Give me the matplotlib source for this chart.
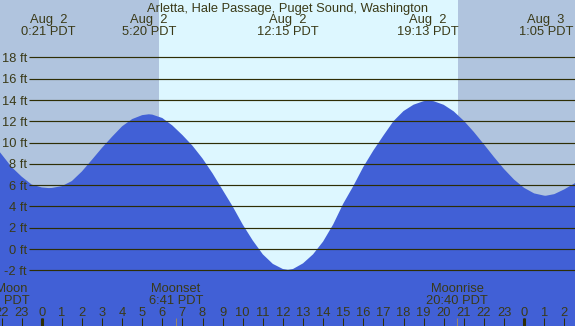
import matplotlib
matplotlib.use('Agg')
import matplotlib.pyplot as plt
from matplotlib.transforms import ScaledTranslation

# ---------------- data ----------------
tide_hours = [-2.5, -2.0, -1.5, -1.0, -0.5, 0.0, 0.35, 0.5, 1.0, 1.5, 2.0, 2.5, 3.0, 3.5,
              4.0, 4.5, 5.0, 5.33, 5.5, 6.0, 6.5, 7.0, 7.5, 8.0, 8.5, 9.0, 9.5, 10.0,
              10.5, 11.0, 11.5, 12.0, 12.25, 12.5, 13.0, 13.5, 14.0, 14.5, 15.0, 15.5,
              16.0, 16.5, 17.0, 17.5, 18.0, 18.5, 19.0, 19.22, 19.5, 20.0, 20.5, 21.0,
              21.5, 22.0, 22.5, 23.0, 23.5, 24.0, 24.5, 25.0, 25.08, 25.5, 26.0, 26.5, 27.0]
tide_ft = [10.1, 8.9, 7.7, 6.8, 6.05, 5.78, 5.72, 5.73, 5.9, 6.38, 7.28, 8.38, 9.5, 10.54,
           11.52, 12.2, 12.57, 12.65, 12.62, 12.3, 11.6, 10.7, 9.7, 8.5, 7.1, 5.55, 4.0, 2.3,
           0.8, -0.5, -1.4, -1.88, -1.95, -1.88, -1.35, -0.5, 0.7, 2.3, 4.25, 5.9,
           7.7, 9.25, 10.65, 12.0, 12.95, 13.55, 13.88, 13.93, 13.88, 13.54, 12.92, 12.04,
           10.99, 9.83, 8.64, 7.51, 6.52, 5.74, 5.22, 5.01, 5.0, 5.15, 5.6, 6.15, 6.9]

extreme_hours = [0.35, 5.333, 12.25, 19.217, 25.083]
extreme_dates = ['Aug  2', 'Aug  2', 'Aug  2', 'Aug  2', 'Aug  3']
extreme_times = ['0:21 PDT', '5:20 PDT', '12:15 PDT', '19:13 PDT', '1:05 PDT']

sunrise_hour = 5.83
sunset_hour = 20.72

moon_hours = [-2.13, 6.683, 20.667]
moon_names = ['Full Moon', 'Moonset', 'Moonrise']
moon_times = ['21:52 PDT', '6:41 PDT', '20:40 PDT']

hour_ticks = list(range(-2, 27))
hour_labels = [str(h % 24) for h in hour_ticks]
midnight_hours = [0, 24]

ft_levels = [-2, 0, 2, 4, 6, 8, 10, 12, 14, 16, 18]
ft_labels = ['%d ft' % v for v in ft_levels]

title = 'Arletta, Hale Passage, Puget Sound, Washington'

# ---------------- styling ----------------
W, H = 575, 326
night_col = '#b0c4de'
day_col = '#ddf7ff'
water_col = '#4160d6'
grid_col = '#2e2e05'
text_col = '#3a3a18'
moon_tick_col = '#9a8866'
FONT = 'Liberation Sans'
FS = 9.3

fig = plt.figure(figsize=(W / 100, H / 100), dpi=100)
ax = fig.add_axes([0, 0, 1, 1])
ax.set_axis_off()

px_per_hour = 20.1
x0_px = 41.7
px_per_ft = 10.65
y0_px = 249.0
ax.set_xlim(-x0_px / px_per_hour, (W - x0_px) / px_per_hour)
ax.set_ylim((y0_px - H) / px_per_ft, y0_px / px_per_ft)
xmin, xmax = ax.get_xlim()
ymin, ymax = ax.get_ylim()

# background day / night
ax.axvspan(xmin, sunrise_hour, color=night_col, zorder=0, lw=0)
ax.axvspan(sunrise_hour, sunset_hour, color=day_col, zorder=0, lw=0)
ax.axvspan(sunset_hour, xmax, color=night_col, zorder=0, lw=0)

# water
ax.fill_between(tide_hours, tide_ft, ymin - 5, color=water_col, lw=0, zorder=1)

# grid lines
ax.hlines(ft_levels, 29.3 / W, 1.0, transform=ax.get_yaxis_transform(),
          colors=grid_col, lw=0.85, zorder=2)

# y labels
off = ScaledTranslation(0, -4.7 / 100, fig.dpi_scale_trans)
for v, lab in zip(ft_levels, ft_labels):
    ax.text(26.9 / W, v, lab, transform=ax.get_yaxis_transform() + off,
            ha='right', va='baseline', fontsize=FS, family=FONT, color=text_col, zorder=3)

xt = ax.get_xaxis_transform()

def fy(px):
    return 1 - px / H

# title and extreme labels
ax.text(0.5, fy(11.7), title, transform=ax.transAxes, ha='center', va='baseline',
        fontsize=FS, family=FONT, color=text_col, zorder=3)
for h, d, t in zip(extreme_hours, extreme_dates, extreme_times):
    ax.text(h, fy(23.3), d, transform=xt, ha='center', va='baseline',
            fontsize=FS, family=FONT, color=text_col, zorder=3)
    ax.text(h, fy(35.3), t, transform=xt, ha='center', va='baseline',
            fontsize=FS, family=FONT, color=text_col, zorder=3)

# moon labels
for h, n, t in zip(moon_hours, moon_names, moon_times):
    ax.text(h, fy(291.7), n, transform=xt, ha='center', va='baseline',
            fontsize=FS, family=FONT, color=text_col, zorder=3)
    ax.text(h, fy(303.7), t, transform=xt, ha='center', va='baseline',
            fontsize=FS, family=FONT, color=text_col, zorder=3)

# hour labels
for h, lab in zip(hour_ticks, hour_labels):
    ax.text(h, fy(315.7), lab, transform=xt, ha='center', va='baseline',
            fontsize=FS, family=FONT, color=text_col, zorder=3)

# ticks
tick_top = 8.0 / H
ax.vlines(hour_ticks, 0, tick_top, transform=xt, colors=grid_col, lw=0.75, zorder=3)
ax.vlines(midnight_hours, 0, tick_top, transform=xt, colors=grid_col, lw=2.2, zorder=3)
ax.vlines(moon_hours, 0, tick_top, transform=xt, colors=moon_tick_col, lw=0.75, zorder=3)

fig.savefig('out.png', dpi=100)
